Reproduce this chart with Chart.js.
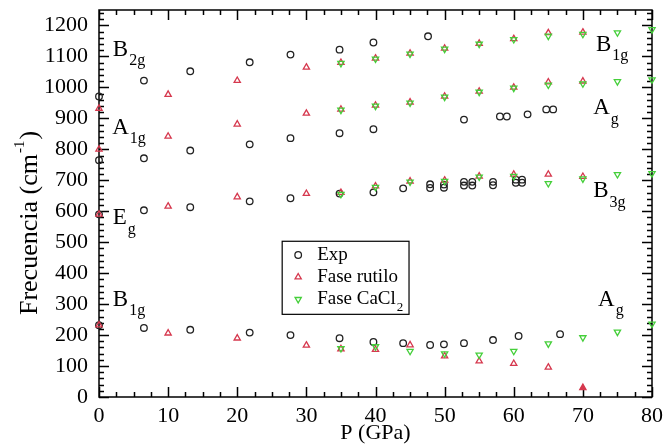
<!DOCTYPE html>
<html>
<head>
<meta charset="utf-8">
<script src="https://cdn.jsdelivr.net/npm/chart.js@4.4.1/dist/chart.umd.min.js"></script>
<style>
  html, body { margin: 0; padding: 0; background: #fff; }
  #wrap { width: 664px; height: 444px; }
</style>
</head>
<body>
<div id="wrap"><canvas id="freqChart" width="664" height="444"></canvas></div>
<script>
const expP = [0, 0, 0, 0, 6.5, 6.5, 6.5, 6.5, 13.2, 13.2, 13.2, 13.2,
  21.8, 21.8, 21.8, 21.8, 27.7, 27.7, 27.7, 27.7, 34.8, 34.8, 34.8, 34.8,
  39.7, 39.7, 39.7, 39.7, 44, 44, 47.6, 47.9, 47.9, 47.9, 49.9, 49.9, 49.9,
  52.8, 52.8, 52.8, 52.8, 54, 54, 57, 57, 57, 58, 59, 60.3, 60.3, 61.2, 61.2,
  60.7, 62, 64.7, 65.7, 66.7];
const expF = [971, 765, 590, 232, 1022, 771, 603, 223, 1052, 796, 613, 217,
  1081, 816, 632, 208, 1106, 836, 642, 200, 1122, 852, 657, 190,
  1145, 865, 661, 178, 674, 174, 1165, 687, 675, 168, 686, 676, 170,
  896, 695, 683, 174, 695, 683, 695, 684, 184, 906, 906, 702, 692, 702, 692,
  197, 913, 929, 929, 203];

// Fase rutilo, one array per mode
const rutiloP = [0, 10, 20, 30, 35, 40, 45, 50, 55, 60, 65, 70];
const rutiloB1g = [932, 977, 1022, 1065, 1080, 1094, 1110, 1126, 1142, 1157, 1176, 1178];
const rutiloAg = [800, 842, 881, 916, 929, 942, 952, 971, 987, 1000, 1017, 1020];
const rutiloB3g = [590, 616, 646, 657, 660, 681, 697, 700, 713, 719, 719, 712];
const rutiloLow = [232, 206, 190, 167, 155, 153, 168, 132, 116, 108, 96, 30];

// Fase CaCl2
const cacl2P = [35, 40, 45, 50, 55, 60, 65, 70, 75, 80];
const cacl2B1g = [1078, 1092, 1108, 1124, 1140, 1155, 1166, 1172, 1177, 1187];
const cacl2Ag = [927, 940, 950, 969, 985, 998, 1008, 1012, 1019, 1025];
const cacl2B3g = [655, 678, 695, 697, 711, 713, 690, 705, 719, 722];
const cacl2Low = [157, 163, 148, 140, 136, 148, 172, 192, 210, 236];

const seriesNames = ["Exp", "Fase rutilo", "Fase CaCl"];
const xTicks = [0, 10, 20, 30, 40, 50, 60, 70, 80];
const yTicks = [0, 100, 200, 300, 400, 500, 600, 700, 800, 900, 1000, 1100, 1200];

// mode labels: [main, subscript, P, F]
const modeLabels = [
  ["B", "2g", 2.0, 1120],
  ["A", "1g", 1.9, 868],
  ["E", "g", 2.0, 577],
  ["B", "1g", 2.0, 315],
  ["B", "1g", 71.9, 1136],
  ["A", "g", 71.5, 932],
  ["B", "3g", 71.5, 664],
  ["A", "g", 72.2, 315],
];

const SERIF = "'Liberation Serif', 'Times New Roman', serif";
const RED = "#d6384e";
const GREEN = "#45cf3a";
const NONE = "rgba(0,0,0,0)";

function toPoints(xs, ys) {
  return ys.map((v, i) => ({ x: xs[i], y: v }));
}

const expPoints = toPoints(expP, expF);
const rutiloPoints = [rutiloB1g, rutiloAg, rutiloB3g, rutiloLow]
  .flatMap((arr) => toPoints(rutiloP, arr));
const cacl2Points = [cacl2B1g, cacl2Ag, cacl2B3g, cacl2Low]
  .flatMap((arr) => toPoints(cacl2P, arr));

const markerStyles = [
  { pointStyle: "circle", radius: 3.3, borderColor: "#222", rotation: 0 },
  { pointStyle: "triangle", radius: 3.6, borderColor: RED, rotation: 0 },
  { pointStyle: "triangle", radius: 3.6, borderColor: GREEN, rotation: 180 },
];

// frame with inward ticks on all four sides, drawn under the points
const framePlugin = {
  id: "frame",
  beforeDatasetsDraw(chart) {
    const ctx = chart.ctx;
    const sx = chart.scales.x, sy = chart.scales.y;
    const L = sx.left, R = sx.right, T = sy.top, B = sy.bottom;
    ctx.save();
    ctx.setLineDash([]);
    ctx.globalAlpha = 1;
    ctx.strokeStyle = "#000";
    ctx.lineWidth = 1.5;
    ctx.beginPath();
    ctx.rect(L, T, R - L, B - T);
    for (let v = 0; v <= 80; v += 2.5) {
      const px = Math.round(sx.getPixelForValue(v)) + 0.5;
      const len = v % 10 === 0 ? 10 : 5;
      ctx.moveTo(px, B);
      ctx.lineTo(px, B - len);
      ctx.moveTo(px, T);
      ctx.lineTo(px, T + len);
    }
    for (let v = 0; v <= 1250; v += 20) {
      const py = Math.round(sy.getPixelForValue(v)) + 0.5;
      const len = v % 100 === 0 ? 10 : 5;
      ctx.moveTo(L, py);
      ctx.lineTo(L + len, py);
      ctx.moveTo(R, py);
      ctx.lineTo(R - len, py);
    }
    ctx.stroke();
    ctx.restore();
  },
  afterDraw(chart) {
    const ctx = chart.ctx;
    const sx = chart.scales.x, sy = chart.scales.y;
    ctx.save();
    ctx.fillStyle = "#000";
    ctx.textBaseline = "middle";
    ctx.textAlign = "left";

    // mode labels with subscripts
    modeLabels.forEach(([main, sub, p, f]) => {
      const x = sx.getPixelForValue(p);
      const y = sy.getPixelForValue(f);
      ctx.font = "23px " + SERIF;
      ctx.fillText(main, x, y);
      const w = ctx.measureText(main).width;
      ctx.font = "16px " + SERIF;
      ctx.fillText(sub, x + w + 1, y + 11);
    });

    // legend box
    const bx1 = sx.getPixelForValue(26.5), bx2 = sx.getPixelForValue(44.85);
    const by1 = sy.getPixelForValue(503), by2 = sy.getPixelForValue(267);
    ctx.fillStyle = "#fff";
    ctx.fillRect(bx1, by1, bx2 - bx1, by2 - by1);
    ctx.strokeStyle = "#000";
    ctx.lineWidth = 1.2;
    ctx.strokeRect(bx1, by1, bx2 - bx1, by2 - by1);
    const rowH = (by2 - by1) / 3.3;
    seriesNames.forEach((name, i) => {
      const ry = by1 + rowH * (0.62 + i);
      const st = markerStyles[i];
      ctx.lineWidth = 1.3;
      ctx.strokeStyle = st.borderColor;
      ctx.fillStyle = NONE;
      Chart.helpers.drawPoint(ctx, {
        pointStyle: st.pointStyle, radius: st.radius, rotation: st.rotation,
        borderWidth: 1.3,
      }, bx1 + 16, ry);
      ctx.fillStyle = "#000";
      ctx.font = "19px " + SERIF;
      ctx.fillText(name, bx1 + 35, ry);
      if (i === 2) {
        const w = ctx.measureText(name).width;
        ctx.font = "13px " + SERIF;
        ctx.fillText("2", bx1 + 35 + w + 1, ry + 8);
      }
    });

    // y axis title with superscript
    ctx.fillStyle = "#000";
    ctx.translate(30, 224);
    ctx.rotate(-Math.PI / 2);
    const t1 = "Frecuencia (cm", t2 = ")";
    ctx.font = "26px " + SERIF;
    const w1 = ctx.measureText(t1).width;
    const w2 = ctx.measureText(t2).width;
    ctx.font = "15px " + SERIF;
    const ws = ctx.measureText("-1").width;
    const x0 = -(w1 + ws + w2) / 2;
    ctx.font = "26px " + SERIF;
    ctx.fillText(t1, x0, 0);
    ctx.fillText(t2, x0 + w1 + ws + 2, 0);
    ctx.font = "15px " + SERIF;
    ctx.fillText("-1", x0 + w1 + 1, -10);
    ctx.restore();
  },
};

const ctx = document.getElementById("freqChart").getContext("2d");
new Chart(ctx, {
  type: "scatter",
  data: {
    datasets: [
      { label: seriesNames[2], data: cacl2Points },
      { label: seriesNames[1], data: rutiloPoints },
      { label: seriesNames[0], data: expPoints },
    ].map((ds, i) => {
      const st = markerStyles[2 - i];
      return Object.assign(ds, {
        pointStyle: st.pointStyle,
        pointRadius: st.radius,
        pointRotation: st.rotation,
        pointBorderColor: st.borderColor,
        // the lowest rutile point (70 GPa) is drawn solid in the figure
        pointBackgroundColor: (c) =>
          (i === 1 && c.raw && c.raw.y < 50 ? RED : NONE),
        pointBorderWidth: 1.3,
        showLine: false,
        clip: false,
      });
    }),
  },
  options: {
    responsive: false,
    animation: false,
    layout: { padding: { top: 10, right: 12, left: 0, bottom: 0 } },
    plugins: { legend: { display: false }, tooltip: { enabled: false } },
    scales: {
      x: {
        type: "linear",
        min: 0,
        max: 80,
        afterBuildTicks: (scale) => {
          scale.ticks = xTicks.map((v) => ({ value: v }));
        },
        afterFit: (scale) => {
          scale.height = 47;
          scale.paddingLeft = 0;
          scale.paddingRight = 0;
        },
        grid: { display: false, drawTicks: false },
        border: { display: false },
        ticks: { color: "#000", padding: 6, maxRotation: 0,
          callback: (v) => String(v),
          font: { family: SERIF, size: 22 } },
        title: { display: true, text: "P (GPa)", color: "#000",
          padding: 0, font: { family: SERIF, size: 22, lineHeight: 1 } },
      },
      y: {
        type: "linear",
        min: 0,
        max: 1250,
        afterBuildTicks: (scale) => {
          scale.ticks = yTicks.map((v) => ({ value: v }));
        },
        afterFit: (scale) => {
          scale.width = 99;
          scale.paddingTop = 0;
          scale.paddingBottom = 0;
        },
        grid: { display: false, drawTicks: false },
        border: { display: false },
        ticks: { color: "#000", padding: 11,
          callback: (v) => String(v),
          font: { family: SERIF, size: 22 } },
      },
    },
  },
  plugins: [framePlugin],
});
</script>
</body>
</html>
